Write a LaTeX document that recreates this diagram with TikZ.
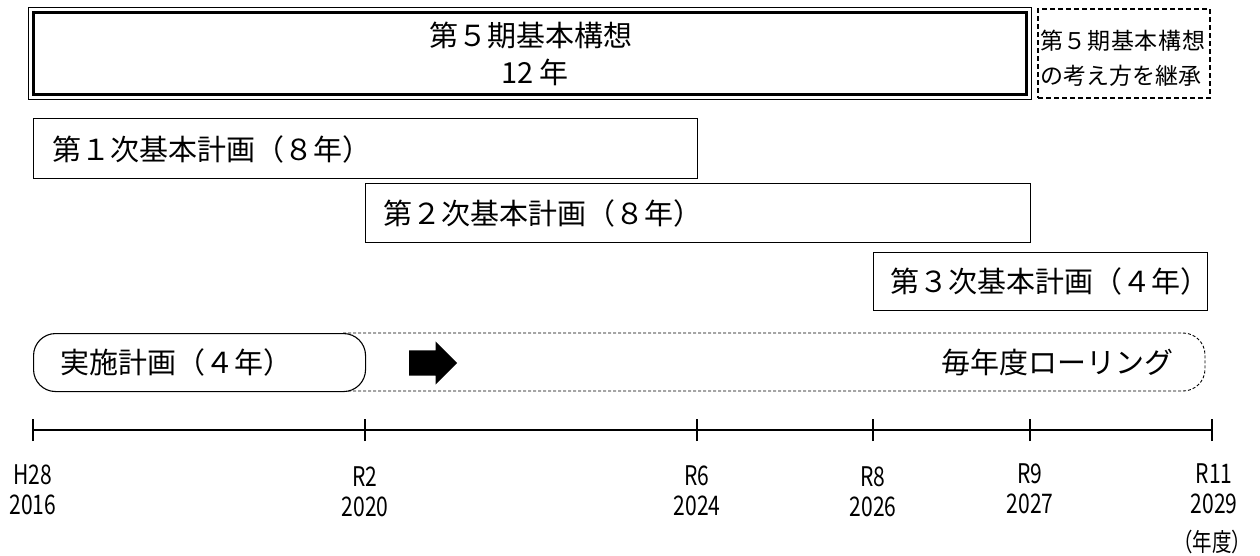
\documentclass[tikz,border=0pt]{standalone}
\usepackage{fontspec}
\setmainfont{Noto Sans CJK JP}
\newfontfamily\lblfont[FakeStretch=0.78]{Noto Sans CJK JP}
\usetikzlibrary{shapes.arrows}
\begin{document}
\begin{tikzpicture}[x=1pt,y=-1pt,
  planbox/.style={draw, line width=1.1pt, inner sep=0pt, anchor=north west},
  boxtext/.style={font=\fontsize{29}{32}\selectfont, anchor=west, inner sep=0pt},
  titletext/.style={font=\fontsize{29}{32}\selectfont, inner sep=0pt},
  smalltext/.style={font=\fontsize{23}{26}\selectfont, anchor=west, inner sep=0pt},
  yearlbl/.style={font=\lblfont\fontsize{27}{30}\selectfont, align=center, inner sep=0pt},
  axisline/.style={line width=1.1pt},
  rolldash/.style={line width=0.9pt, dash pattern=on 3pt off 2pt}
]
\useasboundingbox (0,0) rectangle (1260,556);

% title box (double border)
\node[planbox, line width=1pt, minimum width=1003pt, minimum height=92pt] (kousou) at (28,7) {};
\draw[line width=2.4pt] ([shift={(5.5,5.5)}]kousou.north west) rectangle ([shift={(-5.5,-5.5)}]kousou.south east);
\node[titletext] (kt1) at (531,35) {第５期基本構想};
\node[titletext] (kt2) at (535,72) {12 年};

% successor box
\node[planbox, line width=2.2pt, dash pattern=on 5pt off 3pt, minimum width=172pt, minimum height=89pt] (succ) at (1037,8) {};
\node[smalltext] (s1) at (1040,41) {\hbox to 165pt{第\hfil ５\hfil 期\hfil 基\hfil 本\hfil 構\hfil 想}};
\node[smalltext] (s2) at (1040,76) {\hbox to 149pt{の\hfil 考\hfil え\hfil 方\hfil を\hfil 継\hfil 承}};

% basic plans
\node[planbox, minimum width=664pt, minimum height=60pt] (p1) at (33,118) {};
\node[boxtext] (p1t) at (52,149) {第１次基本計画（８年）};
\node[planbox, minimum width=665pt, minimum height=59pt] (p2) at (365,183) {};
\node[boxtext] (p2t) at (383,213) {第２次基本計画（８年）};
\node[planbox, minimum width=334pt, minimum height=58pt] (p3) at (873,252) {};
\node[boxtext] (p3t) at (890,281) {第３次基本計画（４年）};

% implementation plan
\draw[rolldash, rounded corners=22pt] (343,333) -- (1205,333) -- (1205,391) -- (343,391);
\node[planbox, fill=white, rounded corners=22pt, minimum width=332pt, minimum height=58pt] (jisshi) at (33,333) {};
\node[boxtext] (jt) at (60,362) {実施計画（４年）};
\node[single arrow, fill=black, inner xsep=0pt, inner ysep=12.5pt, minimum height=48pt, single arrow head extend=9pt, single arrow tip angle=90, anchor=tail] (arr) at (409,363) {};
\node[boxtext, anchor=east] (roll) at (1174,362) {毎年度ローリング};

% axis
\coordinate (t0) at (33,430);
\coordinate (t1) at (365,430);
\coordinate (t2) at (697,430);
\coordinate (t3) at (873,430);
\coordinate (t4) at (1030,430);
\coordinate (t5) at (1212,430);
\draw[axisline] (t0) -- (t5);
\foreach \t in {t0,t1,t2,t3,t4,t5} \draw[axisline] ([yshift=-11pt]\t) -- ([yshift=11pt]\t);

\node[yearlbl] (y0) at (33,490) {H28\\2016};
\node[yearlbl] (y1) at (365,492) {R2\\2020};
\node[yearlbl] (y2) at (697,491) {R6\\2024};
\node[yearlbl] (y3) at (873,492) {R8\\2026};
\node[yearlbl] (y4) at (1030,489) {R9\\2027};
\node[yearlbl] (y5) at (1214,489) {R11\\2029};
\node[yearlbl, font=\lblfont\fontsize{25}{28}\selectfont] (unit) at (1212,542) {（年度）};
\end{tikzpicture}
\end{document}
